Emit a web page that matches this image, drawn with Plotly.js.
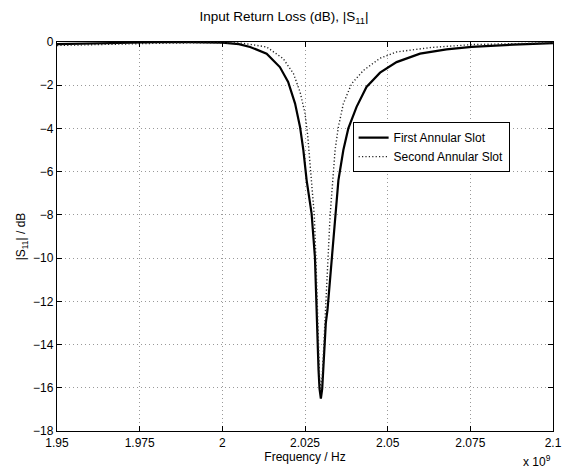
<!DOCTYPE html>
<html>
<head>
<meta charset="utf-8">
<script src="https://cdn.plot.ly/plotly-3.0.1.min.js"></script>
<style>html,body{margin:0;padding:0;background:#fff;}#chart{width:568px;height:470px;}</style>
</head>
<body>
<div id="chart"></div>
<script>
// Frequency in units of 1e9 Hz
const firstFreq = [1.95, 1.96, 1.97, 1.975, 1.98, 1.99, 1.995, 2.0, 2.005, 2.0084, 2.0134, 2.0174, 2.0199, 2.022, 2.0235, 2.0245, 2.0255, 2.027, 2.028, 2.0284, 2.0287, 2.0291, 2.0294, 2.0298, 2.0302, 2.0306, 2.031, 2.0313, 2.0318, 2.0331, 2.0342, 2.0351, 2.0366, 2.0381, 2.0406, 2.0436, 2.0477, 2.0527, 2.0598, 2.0678, 2.0754, 2.088, 2.1];
const firstS11 = [-0.1, -0.07, -0.04, -0.02, -0.01, -0.01, -0.02, -0.03, -0.1, -0.23, -0.54, -1.16, -1.85, -2.85, -3.93, -5.0, -6.4, -7.94, -9.95, -12.0, -13.8, -15.2, -16.05, -16.5, -16.05, -15.0, -13.8, -13.0, -12.4, -9.95, -7.94, -6.4, -5.0, -4.0, -3.0, -2.08, -1.42, -0.93, -0.54, -0.34, -0.23, -0.12, -0.05];

const secondFreq = [1.95, 1.96, 1.97, 1.98, 1.99, 2.0, 2.005, 2.0084, 2.0134, 2.0184, 2.0215, 2.0235, 2.025, 2.0258, 2.027, 2.0278, 2.0283, 2.0287, 2.0291, 2.0294, 2.0298, 2.0302, 2.0306, 2.0312, 2.0319, 2.0326, 2.0334, 2.0341, 2.0351, 2.0366, 2.0391, 2.0427, 2.0477, 2.0527, 2.0628, 2.0754, 2.088, 2.1];
const secondS11 = [-0.16, -0.12, -0.09, -0.06, -0.04, -0.03, -0.04, -0.11, -0.23, -0.77, -1.46, -2.31, -3.3, -4.3, -6.4, -8.0, -10.0, -12.4, -14.3, -15.5, -16.1, -15.5, -14.3, -12.4, -10.0, -8.0, -6.4, -5.0, -3.93, -2.85, -1.93, -1.31, -0.75, -0.46, -0.26, -0.12, -0.08, -0.03];

const seriesNames = ['First Annular Slot', 'Second Annular Slot'];
const xTickVals = [1.95, 1.975, 2.0, 2.025, 2.05, 2.075, 2.1];
const xTickText = ['1.95', '1.975', '2', '2.025', '2.05', '2.075', '2.1'];
const yTickVals = [0, -2, -4, -6, -8, -10, -12, -14, -16, -18];

const font = 'Liberation Sans, Arial, Helvetica, sans-serif';

const traces = [
  {x: firstFreq, y: firstS11, name: seriesNames[0], mode: 'lines',
   line: {color: '#000', width: 2.2}},
  {x: secondFreq, y: secondS11, name: seriesNames[1], mode: 'lines',
   line: {color: '#222', width: 1.4, dash: '1.2px,2.2px'}}
];

const axisCommon = {
  showline: true, linecolor: '#000', linewidth: 1.2, mirror: 'ticks',
  ticks: 'inside', ticklen: 5, tickcolor: '#000', tickwidth: 1,
  showgrid: true, gridcolor: '#999', griddash: '1px,3px', gridwidth: 1,
  zeroline: false, tickfont: {family: font, size: 12, color: '#000'}
};

const layout = {
  width: 568, height: 470,
  margin: {l: 57, r: 15, t: 42, b: 39},
  paper_bgcolor: '#fff', plot_bgcolor: '#fff',
  font: {family: font, size: 12, color: '#000'},
  title: {text: 'Input Return Loss (dB), |S<sub>11</sub>|', font: {family: font, size: 13.5, color: '#000'},
          x: 0.5, xanchor: 'center', y: 0.975, yanchor: 'top'},
  xaxis: Object.assign({}, axisCommon, {
    range: [1.95, 2.1], tickvals: xTickVals, ticktext: xTickText,
    title: {text: 'Frequency / Hz', font: {family: font, size: 12, color: '#000'}, standoff: 2}
  }),
  yaxis: Object.assign({}, axisCommon, {
    range: [-18, 0], tickvals: yTickVals,
    title: {text: '|S<sub>11</sub>| / dB', font: {family: font, size: 12, color: '#000'}, standoff: 4}
  }),
  showlegend: true,
  legend: {x: 0.596, y: 0.794, xanchor: 'left', yanchor: 'top',
           bgcolor: '#fff', bordercolor: '#000', borderwidth: 1,
           font: {family: font, size: 12, color: '#000'}, tracegroupgap: 0},
  annotations: [{
    text: 'x 10<sup>9</sup>', xref: 'paper', yref: 'paper', x: 1.0, y: -0.076,
    xanchor: 'right', yanchor: 'middle', showarrow: false,
    font: {family: font, size: 12, color: '#000'}
  }]
};

Plotly.newPlot('chart', traces, layout, {displayModeBar: false, staticPlot: true});
</script>
</body>
</html>
